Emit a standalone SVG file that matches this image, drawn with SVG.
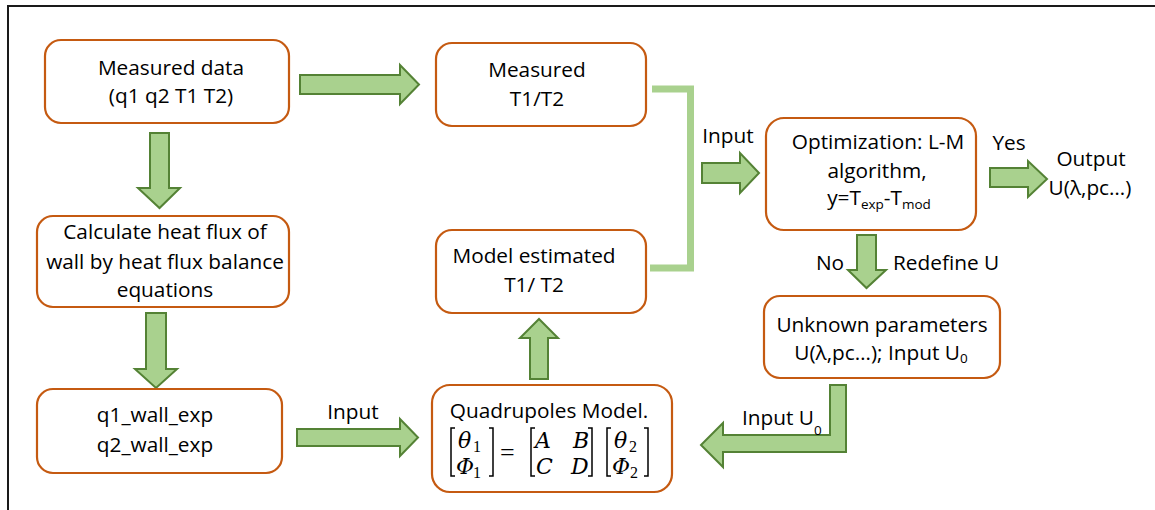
<svg xmlns="http://www.w3.org/2000/svg" width="1155" height="510" viewBox="0 0 1155 510">
<style>
.frame{fill:none;stroke:#1a1a1a;stroke-width:2}
.box{fill:#ffffff;stroke:#c55a11;stroke-width:2.2}
.t{font-family:"Open Sans","Liberation Sans",sans-serif;font-size:20.8px;fill:#000;text-anchor:middle}
.l{font-family:"Open Sans","Liberation Sans",sans-serif;font-size:20.8px;fill:#000}
.sub{font-size:13.5px}
.arr{fill:#a9d18e;stroke:#548235;stroke-width:2;stroke-linejoin:miter}
.brk{fill:none;stroke:#a9d18e;stroke-width:7}
.m{font-family:"DejaVu Serif","Liberation Serif",serif;font-style:italic;font-size:22px;fill:#000}
.ms{font-family:"Liberation Serif",serif;font-size:16px;fill:#000}
.mb{fill:none;stroke:#000;stroke-width:1.5}
</style>
<rect width="1155" height="510" fill="#ffffff"/>
<path class="frame" d="M8,520 V6 H1165"/>

<g id="connectors">
  <!-- Measured data -> Measured T1/T2 -->
  <path class="arr" d="M300,75 H400 V65 L419,84.5 L400,104 V94 H300 Z"/>
  <!-- Measured data -> Calculate -->
  <path class="arr" d="M150,133 H169 V188 H180 L159.5,208 L138,188 H150 Z"/>
  <!-- Calculate -> q1 -->
  <path class="arr" d="M146,313 H166 V369 H177 L156,388 L135,369 H146 Z"/>
  <!-- q1 -> Quadrupoles -->
  <path class="arr" d="M297,429 H400 V419 L418,437.5 L400,456 V446 H297 Z"/>
  <text class="l" x="353" y="419" text-anchor="middle">Input</text>
  <!-- Quadrupoles -> Model estimated -->
  <path class="arr" d="M530,379 V338 H520 L539,319 L558,338 H548 V379 Z"/>
  <!-- bracket -->
  <path class="brk" d="M652,89 H690.5 V268 H650"/>
  <!-- Input -> Optimization -->
  <path class="arr" d="M702,163 H740 V153 L759,173 L740,193 V183 H702 Z"/>
  <text class="l" x="728" y="143" text-anchor="middle">Input</text>
  <!-- Yes -> Output -->
  <path class="arr" d="M990,168 H1028 V161 L1047,179 L1028,197 V187 H990 Z"/>
  <text class="l" x="1009" y="150" text-anchor="middle">Yes</text>
  <!-- No / Redefine U -->
  <path class="arr" d="M857,235 H876 V270 H886 L866.5,288 L848,270 H857 Z"/>
  <text class="l" x="830" y="270" text-anchor="middle">No</text>
  <text class="l" x="893" y="270">Redefine U</text>
  <!-- Unknown -> Quadrupoles (bent) -->
  <path class="arr" d="M830,385 H846 V452 H723 V467 L701,445 L723,423 V435 H830 Z"/>
  <text class="l" x="742" y="425">Input U<tspan class="sub" dx="0" dy="10">0</tspan></text>
</g>

<g id="n-measured-data">
  <rect class="box" x="45" y="40" width="244" height="83" rx="16"/>
  <text class="t" x="171" y="75">Measured data</text>
  <text class="t" x="171" y="103">(q1 q2 T1 T2)</text>
</g>

<g id="n-calculate">
  <rect class="box" x="37" y="216" width="252" height="91" rx="16"/>
  <text class="t" x="165" y="239">Calculate heat flux of</text>
  <text class="t" x="165" y="269">wall by heat flux balance</text>
  <text class="t" x="165" y="297">equations</text>
</g>

<g id="n-q-wall">
  <rect class="box" x="37" y="389" width="245" height="84" rx="16"/>
  <text class="t" x="155" y="422">q1_wall_exp</text>
  <text class="t" x="155" y="452">q2_wall_exp</text>
</g>

<g id="n-measured-t">
  <rect class="box" x="436" y="43" width="210" height="83" rx="16"/>
  <text class="t" x="537" y="77">Measured</text>
  <text class="t" x="537" y="106">T1/T2</text>
</g>

<g id="n-model-estimated">
  <rect class="box" x="436" y="230" width="210" height="83" rx="16"/>
  <text class="t" x="534" y="263">Model estimated</text>
  <text class="t" x="534" y="292">T1/ T2</text>
</g>

<g id="n-quadrupoles">
  <rect class="box" x="432" y="385" width="240" height="107" rx="18"/>
  <text class="t" x="549" y="418">Quadrupoles Model.</text>
  <!-- matrix -->
  <path class="mb" d="M455,428 H451 V476 H455"/>
  <path class="mb" d="M489,428 H493 V476 H489"/>
  <text class="m" x="458" y="448">θ</text>
  <text class="ms" x="473" y="452">1</text>
  <text class="m" x="456" y="474">Φ</text>
  <text class="ms" x="473" y="478">1</text>
  <text x="500" y="461" style="font-family:'Liberation Serif',serif;font-size:26px;fill:#000">=</text>
  <path class="mb" d="M535,428 H531 V476 H535"/>
  <path class="mb" d="M588,428 H592 V476 H588"/>
  <text class="m" x="535" y="448">A</text>
  <text class="m" x="573" y="448">B</text>
  <text class="m" x="536" y="474">C</text>
  <text class="m" x="571" y="474">D</text>
  <path class="mb" d="M611,428 H607 V476 H611"/>
  <path class="mb" d="M644,428 H648 V476 H644"/>
  <text class="m" x="614" y="448">θ</text>
  <text class="ms" x="629" y="452">2</text>
  <text class="m" x="612" y="474">Φ</text>
  <text class="ms" x="630" y="478">2</text>
</g>

<g id="n-optimization">
  <rect class="box" x="766" y="118" width="210" height="112" rx="18"/>
  <text class="t" x="878" y="149">Optimization: L-M</text>
  <text class="t" x="877" y="178">algorithm,</text>
  <text class="t" x="879" y="205">y=T<tspan class="sub" dy="4">exp</tspan><tspan dy="-4">-T</tspan><tspan class="sub" dy="4">mod</tspan></text>
</g>

<g id="n-unknown">
  <rect class="box" x="764" y="296" width="236" height="82" rx="16"/>
  <text class="t" x="882" y="332">Unknown parameters</text>
  <text class="t" x="881" y="360">U(λ,pc…); Input U<tspan class="sub" dy="3">0</tspan></text>
</g>

<g id="n-output">
  <text class="t" x="1091" y="166">Output</text>
  <text class="t" x="1090" y="195">U(λ,pc…)</text>
</g>
</svg>
